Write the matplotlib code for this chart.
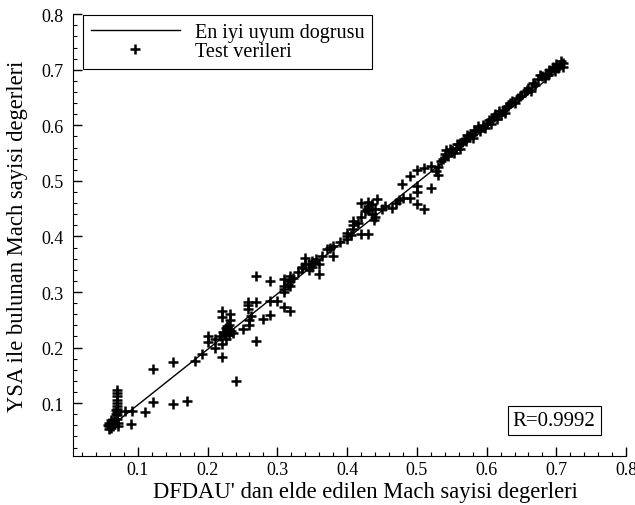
import numpy as np
import matplotlib
matplotlib.use("Agg")
from matplotlib import pyplot as plt
from matplotlib.ticker import MultipleLocator

# test points, grouped by range
low_x = [0.058, 0.060, 0.062, 0.058, 0.063, 0.061, 0.065, 0.059, 0.064, 0.066, 0.057, 0.062,
         0.070, 0.070, 0.070, 0.070, 0.070, 0.070, 0.070, 0.070, 0.070, 0.070, 0.068, 0.068,
         0.072, 0.072, 0.081, 0.091, 0.090, 0.110, 0.121, 0.121, 0.150, 0.150, 0.170, 0.182, 0.192]
low_y = [0.058, 0.062, 0.056, 0.065, 0.066, 0.060, 0.059, 0.054, 0.063, 0.068, 0.061, 0.069,
         0.072, 0.078, 0.084, 0.090, 0.095, 0.100, 0.106, 0.112, 0.118, 0.124, 0.080, 0.088,
         0.064, 0.058, 0.086, 0.086, 0.062, 0.084, 0.102, 0.161, 0.098, 0.174, 0.103, 0.175, 0.188]

mid_x = [0.200, 0.200, 0.210, 0.210, 0.220, 0.220, 0.220, 0.220, 0.218, 0.222, 0.226, 0.230,
         0.234, 0.228, 0.224, 0.232, 0.232, 0.241, 0.250, 0.258, 0.258, 0.258, 0.260, 0.260,
         0.262, 0.270, 0.270, 0.270, 0.280, 0.290, 0.290, 0.290, 0.300, 0.310, 0.310, 0.310,
         0.310, 0.318, 0.318, 0.318, 0.318, 0.309, 0.315, 0.323, 0.226, 0.230, 0.236]
mid_y = [0.210, 0.220, 0.200, 0.215, 0.255, 0.265, 0.206, 0.183, 0.220, 0.228, 0.235, 0.222,
         0.230, 0.238, 0.224, 0.250, 0.260, 0.140, 0.233, 0.270, 0.276, 0.282, 0.240, 0.250,
         0.257, 0.328, 0.282, 0.212, 0.251, 0.320, 0.258, 0.283, 0.283, 0.300, 0.310, 0.323,
         0.273, 0.265, 0.310, 0.320, 0.328, 0.305, 0.315, 0.325, 0.216, 0.240, 0.226]

upper_x = [0.330, 0.335, 0.340, 0.345, 0.350, 0.350, 0.355, 0.360, 0.340, 0.364, 0.359, 0.345,
           0.380, 0.371, 0.380, 0.375, 0.390, 0.400, 0.400, 0.400, 0.405, 0.409, 0.409, 0.409,
           0.420, 0.430, 0.416, 0.420, 0.425, 0.430, 0.430, 0.435, 0.440, 0.443, 0.438, 0.428,
           0.420, 0.440, 0.450, 0.455, 0.465, 0.470, 0.480, 0.475, 0.479, 0.490, 0.500, 0.510,
           0.500, 0.500, 0.490, 0.500, 0.510, 0.520, 0.520, 0.530, 0.530, 0.535, 0.336, 0.352,
           0.432, 0.436, 0.527]
upper_y = [0.336, 0.345, 0.350, 0.340, 0.355, 0.345, 0.360, 0.350, 0.362, 0.364, 0.332, 0.350,
           0.364, 0.377, 0.383, 0.380, 0.390, 0.395, 0.400, 0.407, 0.403, 0.413, 0.420, 0.427,
           0.404, 0.404, 0.425, 0.435, 0.445, 0.455, 0.462, 0.440, 0.450, 0.467, 0.430, 0.450,
           0.460, 0.435, 0.450, 0.455, 0.452, 0.460, 0.470, 0.465, 0.494, 0.470, 0.459, 0.449,
           0.480, 0.490, 0.508, 0.520, 0.523, 0.526, 0.488, 0.510, 0.525, 0.535, 0.344, 0.352,
           0.448, 0.458, 0.518]

high_x = [0.537, 0.540, 0.545, 0.550, 0.553, 0.556, 0.560, 0.562, 0.567, 0.570, 0.575, 0.578,
          0.580, 0.585, 0.588, 0.590, 0.600, 0.603, 0.606, 0.610, 0.612, 0.615, 0.618, 0.620,
          0.623, 0.626, 0.630, 0.634, 0.640, 0.645, 0.650, 0.655, 0.660, 0.663, 0.667, 0.673,
          0.676, 0.680, 0.685, 0.688, 0.690, 0.695, 0.698, 0.700, 0.705, 0.707, 0.710, 0.710,
          0.542, 0.548, 0.558, 0.565, 0.572, 0.582, 0.595, 0.598, 0.608, 0.617, 0.628, 0.637,
          0.648, 0.658, 0.670, 0.683, 0.693, 0.702]
high_y = [0.540, 0.548, 0.545, 0.555, 0.550, 0.560, 0.566, 0.558, 0.575, 0.572, 0.580, 0.585,
          0.578, 0.590, 0.598, 0.590, 0.605, 0.610, 0.603, 0.615, 0.620, 0.612, 0.625, 0.618,
          0.628, 0.622, 0.635, 0.641, 0.641, 0.650, 0.655, 0.660, 0.668, 0.662, 0.677, 0.683,
          0.690, 0.688, 0.695, 0.690, 0.700, 0.705, 0.698, 0.710, 0.708, 0.715, 0.705, 0.712,
          0.556, 0.558, 0.567, 0.570, 0.583, 0.592, 0.600, 0.596, 0.612, 0.618, 0.633, 0.644,
          0.652, 0.663, 0.673, 0.686, 0.697, 0.703]

# best fit line
fit_x = [0.070, 0.710]
fit_y = [0.067, 0.706]

test_x = low_x + mid_x + upper_x + high_x
test_y = low_y + mid_y + upper_y + high_y

plt.rcParams['font.family'] = ['Liberation Serif', 'DejaVu Serif']

fig = plt.figure(figsize=(6.35, 5.06), dpi=100)
ax = fig.add_axes([0.115, 0.097, 0.871, 0.873])

ax.plot(fit_x, fit_y, color='k', lw=1.0, label='En iyi uyum dogrusu')
ax.plot(test_x, test_y, ls='none', marker='+', ms=7, mew=1.8, color='k', label='Test verileri')

ax.set_xlim(0.007, 0.8)
ax.set_ylim(0.005, 0.8)
ax.xaxis.set_major_locator(MultipleLocator(0.1))
ax.yaxis.set_major_locator(MultipleLocator(0.1))
ax.xaxis.set_minor_locator(MultipleLocator(0.02))
ax.yaxis.set_minor_locator(MultipleLocator(0.02))
ax.tick_params(which='major', direction='in', length=6.5, width=1, labelsize=13, pad=6.5)
ax.tick_params(which='minor', direction='in', length=3, width=0.8)
ax.tick_params(axis='x', which='major', pad=4)
ax.spines['top'].set_visible(False)
ax.spines['right'].set_visible(False)

ax.set_xlabel("DFDAU' dan elde edilen Mach sayisi degerleri", fontsize=16.3)
ax.set_ylabel("YSA ile bulunan Mach sayisi degerleri", fontsize=16.3)
ax.xaxis.set_label_coords(0.528, -0.056)
ax.yaxis.set_label_coords(-0.081, 0.5)

leg = ax.legend(loc='upper left', bbox_to_anchor=(0.018, 0.998), borderaxespad=0,
                fontsize=14.5, handlelength=4.4, labelspacing=0.0, fancybox=False,
                edgecolor='k', framealpha=1, borderpad=0.4, handletextpad=0.75)
leg.get_frame().set_linewidth(0.8)

ax.text(0.870, 0.080, 'R=0.9992', transform=ax.transAxes, ha='center', va='center', fontsize=15,
        bbox=dict(boxstyle='square,pad=0.25', fc='white', ec='k', lw=0.8))

fig.savefig('out.png', dpi=100)
